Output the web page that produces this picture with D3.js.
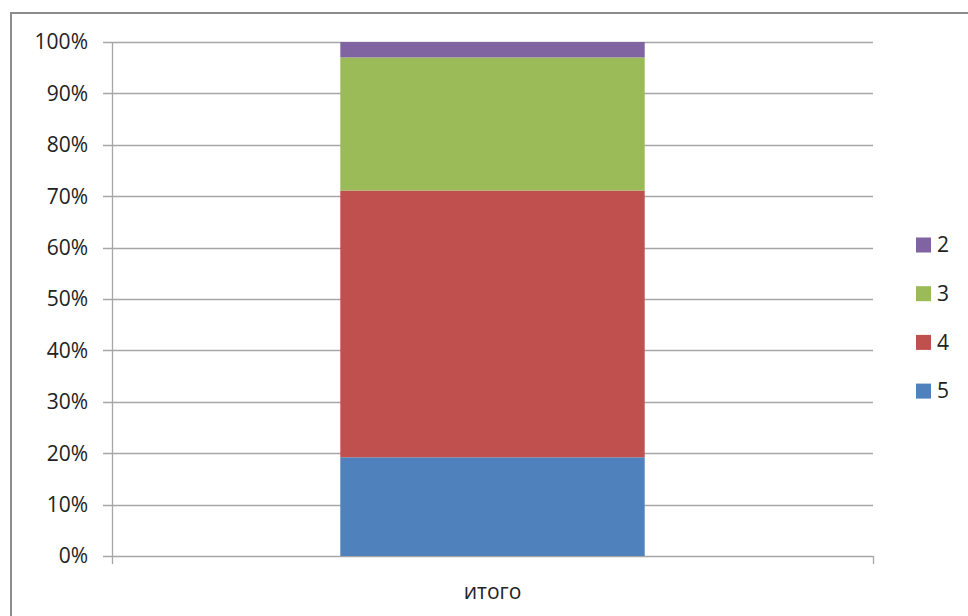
<!DOCTYPE html>
<html><head><meta charset="utf-8">
<script src="https://cdn.jsdelivr.net/npm/d3@7"></script>
<style>body{margin:0;background:#fff}svg{display:block}</style>
</head><body>
<script>
const categories = ["итого"];
const seriesNames = ["5", "4", "3", "2"];
const series5 = [19.2];
const series4 = [51.9];
const series3 = [25.9];
const series2 = [3.0];
const yTicks = [0, 10, 20, 30, 40, 50, 60, 70, 80, 90, 100];
const colors = {"5": "#4F81BD", "4": "#C0504D", "3": "#9BBB59", "2": "#8064A2"};

(function () {
const W = 968, H = 616;
const svg = d3.select("body").append("svg").attr("width", W).attr("height", H);
const font = "'Open Sans', 'Noto Sans', sans-serif";
const fs = 21;

// frame
svg.append("path").attr("d", `M11,616 V13 H968`).attr("fill", "none")
  .attr("stroke", "#8c8c8c").attr("stroke-width", 2);

const pl = 112, pr = 873, pt = 42, pb = 556;
const y = d3.scaleLinear().domain([0, 100]).range([pb, pt]);
const x = d3.scaleBand().domain(categories).range([pl, pr]).paddingInner(0.6).paddingOuter(0.3);

const data = categories.map((c, i) => ({cat: c, "5": series5[i], "4": series4[i], "3": series3[i], "2": series2[i]}));
const layers = d3.stack().keys(seriesNames)(data);

// gridlines
svg.append("g").selectAll("line").data(yTicks).join("line")
  .attr("x1", pl - 9).attr("x2", pr).attr("y1", d => Math.round(y(d)) + 0.5).attr("y2", d => Math.round(y(d)) + 0.5)
  .attr("stroke", "#a6a6a6").attr("stroke-width", 1.3);

// axis lines
svg.append("line").attr("x1", pl + 0.5).attr("x2", pl + 0.5).attr("y1", pt).attr("y2", pb + 8)
  .attr("stroke", "#a6a6a6").attr("stroke-width", 1.3);
svg.append("line").attr("x1", pr + 0.5).attr("x2", pr + 0.5).attr("y1", pb).attr("y2", pb + 8)
  .attr("stroke", "#a6a6a6").attr("stroke-width", 1.3);

// bars
svg.append("g").selectAll("g").data(layers).join("g").attr("fill", d => colors[d.key])
  .selectAll("rect").data(d => d).join("rect")
  .attr("x", d => x(d.data.cat))
  .attr("width", x.bandwidth())
  .attr("y", d => y(d[1]))
  .attr("height", d => y(d[0]) - y(d[1]));

// y tick labels
svg.append("g").selectAll("text").data(yTicks).join("text")
  .attr("x", 88).attr("y", d => y(d)).attr("dy", "0.35em").attr("text-anchor", "end")
  .attr("font-family", font).attr("font-size", fs).attr("fill", "#222")
  .text(d => d + "%");

// x labels
svg.append("g").selectAll("text").data(categories).join("text")
  .attr("x", d => x(d) + x.bandwidth() / 2).attr("y", 592).attr("dy", "0.35em").attr("text-anchor", "middle")
  .attr("font-family", font).attr("font-size", fs).attr("fill", "#222")
  .text(d => d);

// legend
const legendOrder = ["2", "3", "4", "5"];
const lg = svg.append("g").selectAll("g").data(legendOrder).join("g")
  .attr("transform", (d, i) => `translate(916, ${245 + i * 48.7})`);
lg.append("rect").attr("x", 0).attr("y", -7.5).attr("width", 15).attr("height", 15).attr("fill", d => colors[d]);
lg.append("text").attr("x", 21).attr("y", 0).attr("dy", "0.35em")
  .attr("font-family", font).attr("font-size", fs).attr("fill", "#222").text(d => d);
})();
</script>
</body></html>
